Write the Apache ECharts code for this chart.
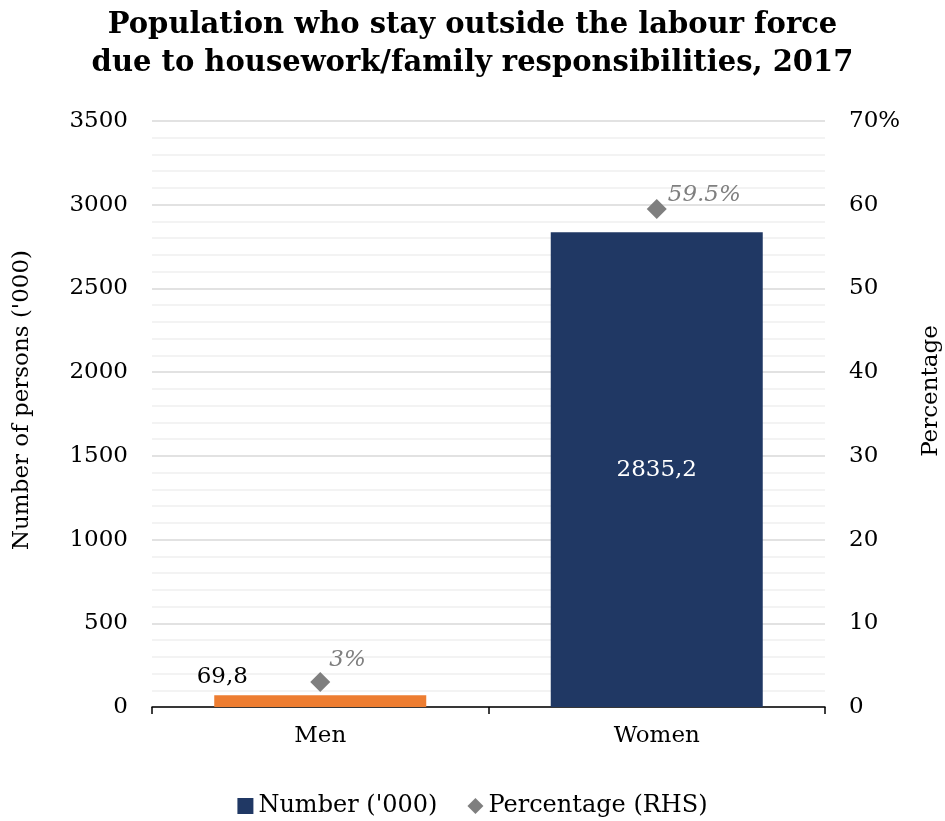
<!DOCTYPE html>
<html>
<head>
<meta charset="utf-8">
<script src="https://cdn.jsdelivr.net/npm/echarts@6/dist/echarts.min.js"></script>
<style>html,body{margin:0;padding:0;background:#fff}#c{width:945px;height:821px}</style>
</head>
<body>
<div id="c"></div>
<script>
const categories = ["Men", "Women"];
const numbers = [69.8, 2835.2];
const percentages = [3, 59.5];
const barColors = ["#ED7D31", "#203864"];
const leftTicks = [0, 3500, 500];
const rightTicks = [0, 70, 10];

const FONT = "DejaVu Serif";
const FS = 23;
const chart = echarts.init(document.getElementById('c'));
const fmtComma = v => String(v).replace('.', ',');
chart.setOption({
  animation: false,
  textStyle: { fontFamily: FONT, color: '#000' },
  title: {
    text: "Population who stay outside the labour force\ndue to housework/family responsibilities, 2017",
    left: 'center', top: 1,
    textStyle: { fontFamily: FONT, fontWeight: 'bold', fontSize: 29, lineHeight: 38, color: '#000' }
  },
  grid: { left: 152, right: 120, top: 121, bottom: 114, containLabel: false, outerBoundsMode: 'none' },
  legend: {
    bottom: -2, left: 'center', itemGap: 30, itemWidth: 16, itemHeight: 16,
    textStyle: { fontFamily: FONT, fontSize: 24, color: '#000' },
    data: [
      { name: "Number ('000)", icon: 'rect', itemStyle: { color: '#203864' } },
      { name: "Percentage (RHS)", icon: 'diamond', itemStyle: { color: '#7F7F7F', opacity: 1 } }
    ]
  },
  xAxis: {
    type: 'category', data: categories,
    axisLine: { lineStyle: { color: '#000', width: 1.5 } },
    axisTick: { show: true, length: 7, lineStyle: { color: '#000', width: 1.5 } },
    axisLabel: { fontFamily: FONT, fontSize: FS, color: '#000', margin: 18 }
  },
  yAxis: [
    {
      type: 'value', min: leftTicks[0], max: leftTicks[1], interval: leftTicks[2],
      name: "Number of persons ('000)", nameLocation: 'middle', nameGap: 118, nameRotate: 90,
      nameTextStyle: { fontFamily: FONT, fontSize: FS, color: '#000', padding: [0, 0, 0, 28] },
      axisLine: { show: false }, axisTick: { show: false },
      axisLabel: { fontFamily: FONT, fontSize: FS, color: '#000', margin: 24, formatter: v => String(v) },
      splitLine: { show: true, lineStyle: { color: '#D9D9D9', width: 1.5 } },
      minorTick: { show: false, splitNumber: 5 },
      minorSplitLine: { show: true, lineStyle: { color: '#F0F0F0', width: 1.5 } }
    },
    {
      type: 'value', min: rightTicks[0], max: rightTicks[1], interval: rightTicks[2],
      name: "Percentage", nameLocation: 'middle', nameGap: 95, nameRotate: 90,
      nameTextStyle: { fontFamily: FONT, fontSize: FS, color: '#000', padding: [0, 0, 0, 46] },
      axisLine: { show: false }, axisTick: { show: false },
      axisLabel: { fontFamily: FONT, fontSize: FS, color: '#000', margin: 24,
        formatter: v => v === rightTicks[1] ? v + '%' : String(v) },
      splitLine: { show: false }
    }
  ],
  series: [
    {
      name: "Number ('000)", type: 'bar', yAxisIndex: 0, barWidth: '63%',
      data: numbers.map((v, i) => ({
        value: v,
        itemStyle: { color: barColors[i] },
        label: i === 0
          ? { show: true, position: 'top', offset: [-98, -2], color: '#000', fontSize: FS }
          : { show: true, position: 'inside', color: '#fff', fontSize: FS }
      })),
      label: { fontFamily: FONT, formatter: p => fmtComma(p.value) }
    },
    {
      name: "Percentage (RHS)", type: 'scatter', yAxisIndex: 1, symbol: 'diamond', symbolSize: 20,
      itemStyle: { color: '#7F7F7F', opacity: 1 },
      data: percentages.map((v, i) => ({
        value: v,
        label: { offset: i === 0 ? [-6, -22] : [-4, -14] }
      })),
      label: { show: true, position: 'right', fontFamily: FONT, fontStyle: 'italic',
        fontSize: FS, color: '#7F7F7F', formatter: p => p.value + '%' }
    }
  ]
});
</script>
</body>
</html>
